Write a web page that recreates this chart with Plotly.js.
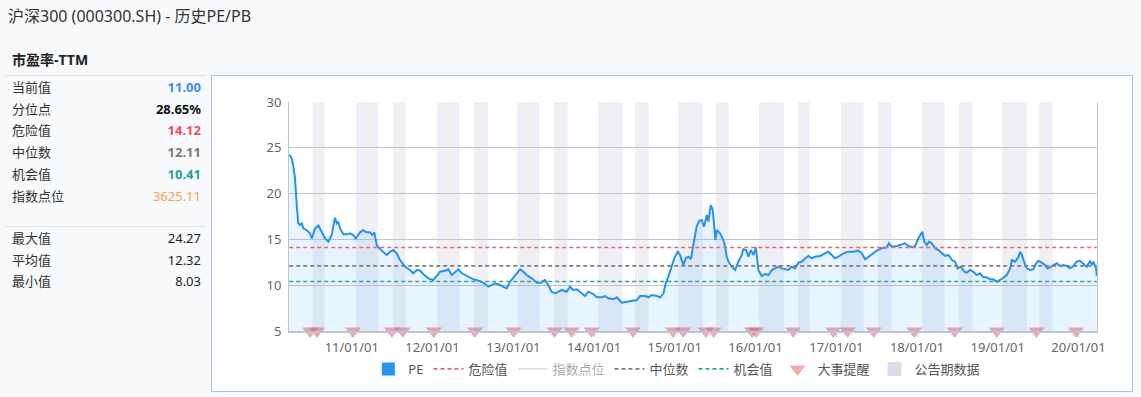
<!DOCTYPE html>
<html>
<head>
<meta charset="utf-8">
<script src="https://cdn.plot.ly/plotly-3.0.1.min.js"></script>
<style>
  html, body { margin:0; padding:0; }
  body { width:1141px; height:397px; background:#f8f9fb; position:relative; overflow:hidden;
         font-family:"Noto Sans","Noto Sans CJK SC",sans-serif; color:#333; }
  #title { position:absolute; left:8px; top:5px; font-size:16px; color:#333; line-height:22px; }
  #ptitle { position:absolute; left:12px; top:50px; font-size:14px; font-weight:bold; color:#222; line-height:20px; }
  .sep { position:absolute; left:5px; width:201px; height:1px; background:#dcdde2; }
  .row { position:absolute; left:12px; width:189px; height:20px; line-height:20px; font-size:13px; }
  .row .lab { position:absolute; left:0; color:#333; }
  .row .val { position:absolute; right:0; }
  #box { position:absolute; left:211px; top:75px; width:920px; height:315px; border:1px solid #a9c3e8; background:#fff; }
</style>
</head>
<body>
<div id="title">沪深300 (000300.SH) - 历史PE/PB</div>
<div id="ptitle">市盈率-TTM</div>
<div class="sep" style="top:75px"></div>
<div id="rows"></div>
<div class="sep" style="top:226px"></div>
<div id="box"><div id="chart"></div></div>
<script>
// ---------- data ----------
const statLabels = ["当前值","分位点","危险值","中位数","机会值","指数点位","最大值","平均值","最小值"];
const statValues = ["11.00","28.65%","14.12","12.11","10.41","3625.11","24.27","12.32","8.03"];

const peDates = [
"2010-03-24","2010-04-04","2010-04-11","2010-04-19","2010-04-27","2010-05-04","2010-05-12","2010-05-20","2010-05-27","2010-06-11",
"2010-06-26","2010-07-04","2010-07-19","2010-08-03","2010-08-18","2010-09-02","2010-09-17","2010-10-02","2010-10-17","2010-10-25",
"2010-11-01","2010-11-09","2010-11-24","2010-12-09","2010-12-24","2011-01-08","2011-01-19","2011-02-07","2011-02-22","2011-03-09",
"2011-03-24","2011-04-04","2011-04-13","2011-04-24","2011-05-09","2011-05-24","2011-06-08","2011-06-23","2011-07-08","2011-07-23",
"2011-08-07","2011-08-30","2011-09-21","2011-10-06","2011-10-22","2011-11-06","2011-11-21","2011-12-13","2012-01-05","2012-01-20",
"2012-02-04","2012-02-27","2012-03-13","2012-03-28","2012-04-12","2012-04-27","2012-05-13","2012-05-28","2012-06-19","2012-07-04",
"2012-07-27","2012-08-18","2012-09-10","2012-09-25","2012-10-10","2012-11-02","2012-11-17","2012-12-02","2012-12-17","2013-01-08",
"2013-01-31","2013-02-15","2013-03-02","2013-03-25","2013-04-17","2013-05-05","2013-05-24","2013-06-08","2013-06-23","2013-07-09",
"2013-08-08","2013-08-30","2013-09-14","2013-09-29","2013-10-15","2013-11-06","2013-11-21","2013-12-06","2013-12-29","2014-01-13",
"2014-02-05","2014-02-20","2014-03-07","2014-03-29","2014-04-14","2014-05-06","2014-05-29","2014-06-21","2014-07-13","2014-07-28",
"2014-08-20","2014-09-04","2014-09-19","2014-10-12","2014-10-27","2014-11-11","2014-11-21","2014-12-03","2014-12-15","2014-12-30",
"2015-01-15","2015-01-25","2015-02-09","2015-02-20","2015-03-03","2015-03-15","2015-03-26","2015-04-10","2015-04-22","2015-05-03",
"2015-05-13","2015-05-26","2015-06-02","2015-06-13","2015-06-22","2015-06-28","2015-07-04","2015-07-10","2015-07-25","2015-08-09",
"2015-08-17","2015-08-24","2015-09-01","2015-09-16","2015-10-01","2015-10-16","2015-10-31","2015-11-07","2015-11-20","2015-11-30",
"2015-12-11","2015-12-23","2016-01-03","2016-01-14","2016-01-30","2016-02-14","2016-02-29","2016-03-15","2016-03-30","2016-04-14",
"2016-04-29","2016-05-14","2016-05-29","2016-06-13","2016-06-28","2016-07-13","2016-07-29","2016-08-13","2016-08-28","2016-09-12",
"2016-09-27","2016-10-19","2016-11-10","2016-11-25","2016-12-11","2016-12-26","2017-01-10","2017-02-02","2017-02-24","2017-03-19",
"2017-04-10","2017-04-26","2017-05-11","2017-05-26","2017-06-10","2017-07-03","2017-07-25","2017-08-17","2017-08-27","2017-09-09",
"2017-10-01","2017-10-24","2017-11-08","2017-11-23","2017-12-11","2017-12-23","2018-01-07","2018-01-25","2018-02-03","2018-02-14",
"2018-02-24","2018-03-09","2018-03-24","2018-04-08","2018-04-23","2018-05-08","2018-05-23","2018-06-08","2018-06-22","2018-07-04",
"2018-07-19","2018-08-03","2018-08-14","2018-08-29","2018-09-13","2018-09-28","2018-10-13","2018-10-28","2018-11-12","2018-11-27",
"2018-12-12","2018-12-28","2019-01-12","2019-01-27","2019-02-11","2019-02-26","2019-03-06","2019-03-21","2019-04-05","2019-04-12",
"2019-04-20","2019-04-30","2019-05-12","2019-05-27","2019-06-11","2019-06-24","2019-07-04","2019-07-19","2019-08-03","2019-08-14",
"2019-08-26","2019-09-10","2019-09-25","2019-10-10","2019-10-25","2019-11-09","2019-11-24","2019-12-09","2019-12-24","2020-01-08",
"2020-01-23","2020-02-08","2020-02-23","2020-03-02","2020-03-09","2020-03-21","2020-03-24"];
const peValues = [
24.27,23.85,23.1,21.7,18.75,16.76,16.57,16.76,16.2,16.0,
15.67,15.1,16.2,16.5,15.84,15.12,14.75,15.48,17.37,16.76,
16.93,16.2,15.55,15.55,15.67,15.48,15.1,15.77,16.0,15.77,
15.77,15.48,15.77,14.39,13.95,13.59,13.3,13.66,13.84,13.48,
12.75,12.02,11.66,11.3,11.66,11.6,11.2,10.75,10.57,11.0,
11.47,11.58,11.73,11.11,11.47,11.73,11.3,11.11,10.86,10.64,
10.5,10.28,9.84,10.02,10.2,10.02,9.84,9.66,10.38,11.0,
11.73,11.47,11.11,10.75,10.28,10.28,10.57,10.02,9.29,9.11,
9.48,9.29,9.84,9.48,9.55,9.11,8.82,9.29,9.04,8.68,
8.68,8.82,8.57,8.46,8.68,8.09,8.2,8.31,8.38,8.82,
8.82,8.68,8.93,8.82,8.68,9.11,10.2,10.93,11.84,12.94,
13.66,13.3,12.2,12.94,13.11,12.85,14.39,16.39,17.04,17.12,
16.39,17.66,16.93,18.75,18.21,16.39,14.93,16.03,15.67,14.93,
14.2,13.11,12.57,12.02,11.66,12.57,13.3,13.92,13.84,13.11,
13.84,13.3,14.14,11.66,11.0,11.22,11.11,11.66,11.84,12.02,
11.84,11.73,11.66,12.02,11.84,12.46,12.57,12.94,13.19,12.94,
13.11,13.19,13.48,13.66,13.3,12.94,13.11,13.48,13.66,13.66,
13.77,13.48,12.83,13.11,13.41,13.77,14.03,14.14,14.57,14.2,
14.28,14.5,14.57,14.28,14.14,14.28,15.12,15.84,14.75,14.39,
14.75,14.57,14.03,13.84,13.55,13.19,13.3,12.75,12.57,11.84,
12.02,11.47,11.37,11.66,11.47,11.11,11.3,10.86,10.86,10.64,
10.64,10.38,10.57,10.86,11.11,11.84,12.75,12.57,13.11,13.66,
13.3,12.57,11.84,11.66,11.73,12.39,12.67,12.46,12.2,11.84,
11.95,12.2,12.39,12.1,12.2,12.1,11.84,12.1,12.57,12.67,
12.39,12.02,12.67,12.2,12.57,11.8,11.00];

const dangerValue = 14.12;
const medianValue = 12.11;
const chanceValue = 10.41;

const eventDates = ["2010-06-26","2010-07-28","2011-01-07","2011-07-01","2011-08-20","2012-01-07","2012-07-10",
"2013-01-02","2013-07-06","2013-09-22","2013-12-21","2014-06-26","2014-12-24","2015-02-08","2015-05-21","2015-06-26",
"2015-12-17","2016-01-04","2016-06-20","2016-12-18","2017-02-21","2017-06-19","2017-12-19","2018-06-20","2018-12-28",
"2019-06-25","2019-12-21"];

const bandStart = ["2010-07-08","2011-01-20","2011-07-06","2012-01-22","2012-07-07","2013-01-18","2013-07-04","2014-01-19",
"2014-07-05","2015-01-16","2015-07-07","2016-01-17","2016-07-12","2017-01-22","2017-07-09","2018-01-24","2018-07-10",
"2019-01-21","2019-07-07"];
const bandEnd = ["2010-09-01","2011-05-02","2011-09-02","2012-05-03","2012-09-07","2013-04-30","2013-09-03","2014-05-10",
"2014-09-05","2015-05-08","2015-09-02","2016-05-08","2016-09-02","2017-05-04","2017-09-08","2018-05-06","2018-09-10",
"2019-05-13","2019-09-07"];

const yTicks = [5,10,15,20,25,30];
const xTickVals = ["2011-01-01","2012-01-01","2013-01-01","2014-01-01","2015-01-01","2016-01-01","2017-01-01","2018-01-01","2019-01-01","2020-01-01"];
const xTickText = ["11/01/01","12/01/01","13/01/01","14/01/01","15/01/01","16/01/01","17/01/01","18/01/01","19/01/01","20/01/01"];

// ---------- left panel ----------
const rowTops = [77,99,120,142,164,186,228,250,271];
const valStyles = [
 "color:#3a8ff0;font-weight:bold","color:#111;font-weight:bold","color:#e8535d;font-weight:bold",
 "color:#7a7a7a;font-weight:bold","color:#2aa193;font-weight:bold","color:#f5a150",
 "color:#222","color:#222","color:#222"];
const rowsEl = document.getElementById("rows");
statLabels.forEach((l,i)=>{
  const d=document.createElement("div"); d.className="row"; d.style.top=rowTops[i]+"px";
  d.innerHTML='<span class="lab">'+l+'</span><span class="val" style="'+valStyles[i]+'">'+statValues[i]+'</span>';
  rowsEl.appendChild(d);
});

// ---------- chart ----------
const x0 = peDates[0], x1 = peDates[peDates.length-1];
const yMin = yTicks[0];
const font = "Noto Sans, Noto Sans CJK SC, sans-serif";

const traces = [
  {x:peDates, y:peValues, type:"scatter", mode:"lines", name:"PE", showlegend:false,
   line:{color:"#2592f0", width:2}, fill:"tozeroy", fillcolor:"rgba(30,144,255,0.10)"},
  {x:[null], y:[null], type:"scatter", mode:"markers", name:"PE",
   marker:{symbol:"square", size:13, color:"#2592f0"}},
  {x:[x0,x1], y:[dangerValue,dangerValue], type:"scatter", mode:"lines", name:"危险值",
   line:{color:"#e8676b", width:1.6, dash:"4px,3px"}},
  {x:[null], y:[null], type:"scatter", mode:"lines", name:"指数点位", visible:"legendonly",
   line:{color:"#c8c8c8", width:2}},
  {x:[x0,x1], y:[medianValue,medianValue], type:"scatter", mode:"lines", name:"中位数",
   line:{color:"#7d7d7d", width:1.6, dash:"4px,3px"}},
  {x:[x0,x1], y:[chanceValue,chanceValue], type:"scatter", mode:"lines", name:"机会值",
   line:{color:"#2ea596", width:1.6, dash:"4px,3px"}},
  {x:eventDates, y:eventDates.map(()=>yMin), type:"scatter", mode:"markers", name:"大事提醒", cliponaxis:false,
   marker:{symbol:"triangle-down", size:14, color:"rgba(222,85,95,0.5)", line:{width:0}}},
  {x:[null], y:[null], type:"scatter", mode:"markers", name:"公告期数据",
   marker:{symbol:"square", size:14, color:"#d9dde9"}}
];

const shapes = bandStart.map((s,i)=>({
  type:"rect", xref:"x", yref:"paper", x0:s, x1:bandEnd[i], y0:0, y1:1,
  fillcolor:"#eff0f5", line:{width:0}, layer:"between"
}));

const layout = {
  width:920, height:315,
  margin:{l:77, r:35, t:26, b:60, autoexpand:false},
  paper_bgcolor:"#ffffff", plot_bgcolor:"#ffffff",
  font:{family:font, size:13, color:"#666"},
  shapes:shapes,
  showlegend:true,
  legend:{orientation:"h", x:0.48, xanchor:"center", yref:"container", y:0.07, yanchor:"middle",
          font:{size:13, color:"#555"}, itemwidth:30, tracegroupgap:0, bgcolor:"rgba(0,0,0,0)"},
  xaxis:{type:"date", range:["2010-03-23","2020-03-25"], tickmode:"array", tickvals:xTickVals, ticktext:xTickText,
         showgrid:false, zeroline:false, showline:true, linecolor:"#b7c6da", linewidth:1.5,
         ticks:"outside", ticklen:4, tickcolor:"#b7c6da", tickfont:{size:13, color:"#666"}},
  yaxis:{range:[5,30], tickmode:"array", tickvals:yTicks, showgrid:true, gridcolor:"#c4c4c4", gridwidth:1,
         zeroline:false, showline:true, mirror:true, linecolor:"#b7c6da", linewidth:1,
         ticks:"", tickfont:{size:13, color:"#666"}, ticklabelstandoff:4},
  hovermode:false
};

Plotly.newPlot("chart", traces, layout, {displayModeBar:false, staticPlot:true});
</script>
</body>
</html>
